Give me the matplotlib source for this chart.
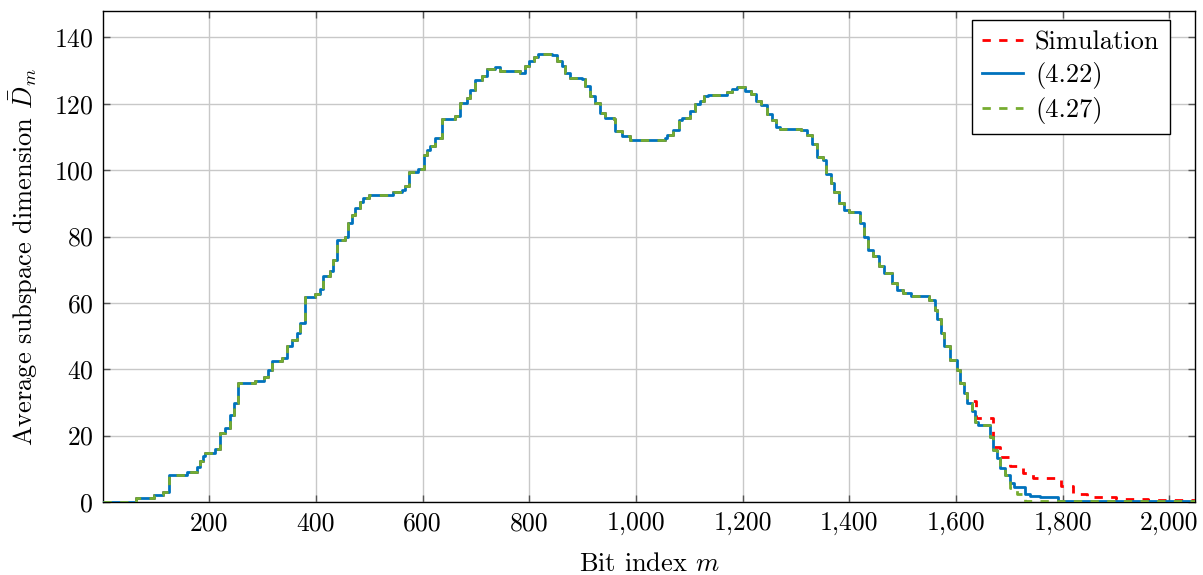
import matplotlib
matplotlib.use("Agg")
import matplotlib.pyplot as plt
from matplotlib.ticker import FuncFormatter

# Step breakpoints (bit index where a new level starts) and the level held from there on.
# Shared portion of all three curves.
common_m = [1, 63, 96, 113, 124, 159, 177, 183, 188, 192, 211, 220, 230, 239, 246, 255,
            286, 302, 311, 317, 336, 346, 355, 364, 371, 380, 399, 408, 414, 427, 433,
            440, 455, 461, 468, 474, 482, 489, 499, 545, 561, 567, 575, 592, 602, 608,
            614, 624, 636, 661, 670, 683, 689, 699, 711, 721, 736, 745, 783, 792, 799,
            808, 817, 842, 852, 861, 867, 877, 899, 905, 914, 924, 933, 942, 958, 961,
            974, 989, 1055, 1058, 1070, 1080, 1086, 1102, 1111, 1120, 1128, 1135, 1170,
            1180, 1190, 1205, 1215, 1225, 1235, 1245, 1255, 1262, 1270, 1310, 1320, 1330,
            1340, 1350, 1357, 1365, 1372, 1380, 1390, 1400, 1420, 1428, 1435, 1445, 1455,
            1465, 1480, 1490, 1500, 1515, 1550, 1560, 1565, 1572, 1578, 1589, 1601, 1608,
            1614]
common_d = [0.0, 1.1, 2.1, 3.1, 8.1, 9.1, 10.4, 12.5, 13.8, 14.9, 16.1, 20.8, 22.3, 26.2,
            29.8, 35.9, 36.6, 37.8, 39.8, 42.6, 43.3, 46.9, 48.7, 50.9, 53.9, 61.9, 62.8,
            64.2, 68.0, 69.5, 73.0, 79.0, 80.0, 84.1, 86.5, 88.6, 90.5, 91.6, 92.6, 93.3,
            94.1, 95.1, 99.4, 100.4, 104.7, 106.0, 107.2, 109.7, 115.3, 116.3, 120.3,
            121.8, 124.3, 127.3, 128.3, 130.4, 131.2, 129.8, 129.4, 131.4, 132.9, 134.2,
            134.9, 134.6, 132.9, 131.4, 129.4, 127.9, 127.5, 125.3, 122.3, 120.3, 117.3,
            115.8, 115.3, 111.7, 110.2, 109.2, 109.7, 110.7, 112.2, 115.1, 115.8, 117.8,
            119.8, 121.0, 122.5, 122.6, 123.5, 124.5, 125.0, 124.0, 123.0, 121.0, 119.5,
            117.0, 115.0, 113.0, 112.5, 112.0, 110.5, 108.0, 104.0, 103.0, 99.0, 96.0,
            93.5, 90.0, 88.0, 87.5, 84.0, 80.0, 76.0, 74.0, 71.0, 69.0, 66.0, 64.0, 63.0,
            62.0, 61.0, 58.0, 55.0, 51.0, 47.0, 42.8, 39.8, 35.8, 32.8]

# Tails, where the curves part ways
sim_tail_m = [1620, 1638, 1670, 1683, 1702, 1726, 1745, 1796, 1820, 1845, 1900, 1960]
sim_tail_d = [30.3, 25.2, 16.7, 13.7, 10.7, 8.7, 7.2, 4.8, 2.4, 1.4, 0.9, 0.6]

eq422_tail_m = [1620, 1630, 1636, 1642, 1664, 1670, 1677, 1683, 1692, 1702, 1708,
                1730, 1739, 1758, 1792]
eq422_tail_d = [29.8, 27.3, 24.2, 23.2, 19.7, 15.7, 13.2, 10.2, 8.1, 5.6, 4.6,
                2.3, 1.8, 1.6, 0.3]

eq427_tail_m = [1620, 1630, 1636, 1642, 1664, 1670, 1677, 1683, 1692, 1702, 1714, 1730]
eq427_tail_d = [29.8, 27.3, 24.2, 23.2, 19.7, 15.7, 13.2, 10.2, 8.1, 4.1, 2.5, 0.3]

m_end = 2048
x_ticks = [200, 400, 600, 800, 1000, 1200, 1400, 1600, 1800, 2000]
y_ticks = [0, 20, 40, 60, 80, 100, 120, 140]

FS = 19
FS_TICK = 18.5
plt.rcParams.update({
    "font.family": "serif",
    "font.serif": ["cmr10", "DejaVu Serif"],
    "mathtext.fontset": "cm",
    "axes.formatter.use_mathtext": True,
    "font.size": FS,
})


def series(tail_m, tail_d):
    m = common_m + tail_m + [m_end]
    d = common_d + tail_d + [tail_d[-1]]
    return m, d


fig = plt.figure(figsize=(12.03, 5.75), dpi=100)
ax = fig.add_axes([0.0856, 0.127, 0.9078, 0.854])

m_sim, d_sim = series(sim_tail_m, sim_tail_d)
m_422, d_422 = series(eq422_tail_m, eq422_tail_d)
m_427, d_427 = series(eq427_tail_m, eq427_tail_d)

ax.step(m_sim, d_sim, where="post", color="#FF0000", lw=2.0,
        linestyle=(0, (3, 3)), label="Simulation", zorder=3)
ax.step(m_422, d_422, where="post", color="#0072BD", lw=2.0,
        label="(4.22)", zorder=4)
ax.step(m_427, d_427, where="post", color="#77AC30", lw=2.0,
        linestyle=(0, (3, 3)), label="(4.27)", zorder=5)

ax.set_xlim(1, m_end)
ax.set_ylim(0, 148)
ax.set_xticks(x_ticks)
ax.set_yticks(y_ticks)
ax.xaxis.set_major_formatter(FuncFormatter(lambda v, p: f"{int(v):,}"))
ax.grid(True, color="#c8c8c8", lw=1.0)
ax.set_axisbelow(True)
ax.tick_params(direction="in", length=5, width=1, color="#555555",
               top=True, right=True, labelsize=FS_TICK, pad=7)
for s in ax.spines.values():
    s.set_linewidth(1.0)

ax.set_xlabel(r"Bit index $m$", fontsize=FS, labelpad=12)
ax.set_ylabel(r"Average subspace dimension $\bar{D}_m$", fontsize=FS, labelpad=10)

leg = ax.legend(loc="upper right", bbox_to_anchor=(0.977, 0.982), fontsize=FS,
                frameon=True, fancybox=False, edgecolor="black", framealpha=1,
                handlelength=1.55, handletextpad=0.45, borderpad=0.4,
                labelspacing=0.3, borderaxespad=0.0)
leg.get_frame().set_linewidth(1.0)

fig.savefig("out.png", dpi=100)
